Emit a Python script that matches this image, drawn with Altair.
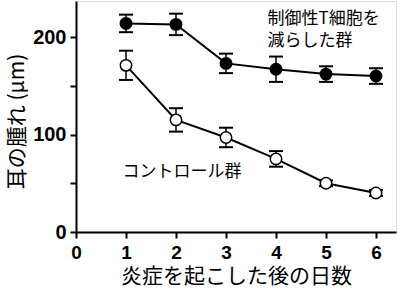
import altair as alt
import pandas as pd

days = [1, 2, 3, 4, 5, 6]
treg_mean = [214, 213, 173, 167, 162, 160]
treg_err = [9, 11, 10, 13, 8, 8]
ctrl_mean = [171, 115, 97, 75, 50, 40]
ctrl_err = [15, 12, 10, 8, 3, 3]
groups = ["treg", "ctrl"]

ann_text = ["制御性T細胞を", "減らした群", "コントロール群"]
ann_x = [3.83, 3.83, 0.93]
ann_y = [219, 196, 62]

x_ticks = [0, 1, 2, 3, 4, 5, 6]
y_ticks = [0, 50, 100, 150, 200]

rows = []
for g, means, errs in [("treg", treg_mean, treg_err), ("ctrl", ctrl_mean, ctrl_err)]:
    for d, m, e in zip(days, means, errs):
        rows.append({"day": d, "val": m, "lo": m - e, "hi": m + e, "group": g})
df = pd.DataFrame(rows)
ann = pd.DataFrame({"text": ann_text, "x": ann_x, "y": ann_y})

xs = alt.Scale(domain=[0, 6.4], nice=False, zero=False)
ys = alt.Scale(domain=[0, 237], nice=False, zero=False)

xenc = alt.X("day:Q", scale=xs, axis=alt.Axis(
    values=x_ticks, format="d", title="炎症を起こした後の日数",
    labelFont="Liberation Sans", labelFontWeight="bold", labelFontSize=19,
    labelColor="black", labelPadding=5, labelFlush=False,
    tickSize=6, tickWidth=2, tickColor="black",
    domainWidth=2, domainColor="black", grid=False,
    titleFont="Noto Sans CJK JP", titleFontSize=21, titleFontWeight="normal",
    titleColor="black", titlePadding=3))
yenc = alt.Y("val:Q", scale=ys, axis=alt.Axis(
    values=y_ticks, labelExpr="datum.value % 100 == 0 ? datum.label : ''",
    title="耳の腫れ (μm)",
    labelFont="Liberation Sans", labelFontWeight="bold", labelFontSize=20,
    labelColor="black", labelPadding=4, labelFlush=False,
    tickSize=6, tickWidth=2, tickColor="black",
    domainWidth=2, domainColor="black", grid=False,
    titleFont="Noto Sans CJK JP", titleFontSize=21, titleFontWeight="normal",
    titleColor="black", titlePadding=5, titleY=120))

base = alt.Chart(df)
line = base.mark_line(color="black", strokeWidth=2).encode(x=xenc, y=yenc, detail="group:N")
rule = base.mark_rule(color="black", strokeWidth=1.5).encode(
    x=alt.X("day:Q", scale=xs), y=alt.Y("lo:Q", scale=ys), y2="hi:Q")
cap_lo = base.mark_tick(color="black", orient="horizontal", size=14, thickness=2, opacity=1).encode(
    x=alt.X("day:Q", scale=xs), y=alt.Y("lo:Q", scale=ys))
cap_hi = base.mark_tick(color="black", orient="horizontal", size=14, thickness=2, opacity=1).encode(
    x=alt.X("day:Q", scale=xs), y=alt.Y("hi:Q", scale=ys))
pts = base.mark_circle(size=130, stroke="black", strokeWidth=1.5, opacity=1).encode(
    x=alt.X("day:Q", scale=xs), y=alt.Y("val:Q", scale=ys),
    color=alt.Color("group:N", scale=alt.Scale(domain=groups, range=["black", "white"]), legend=None))
text = alt.Chart(ann).mark_text(align="left", baseline="middle", font="Noto Sans CJK JP",
                                fontSize=17, color="black").encode(
    x=alt.X("x:Q", scale=xs), y=alt.Y("y:Q", scale=ys), text="text:N")

chart = alt.layer(line, rule, cap_lo, cap_hi, pts, text).properties(
    width=320, height=231, autosize="none",
    padding={"left": 76, "top": 1, "right": 4, "bottom": 58},
).configure_view(stroke="black", strokeWidth=2).configure(background="white")

chart.save("out.html", embed_options={"renderer": "svg", "actions": False})
